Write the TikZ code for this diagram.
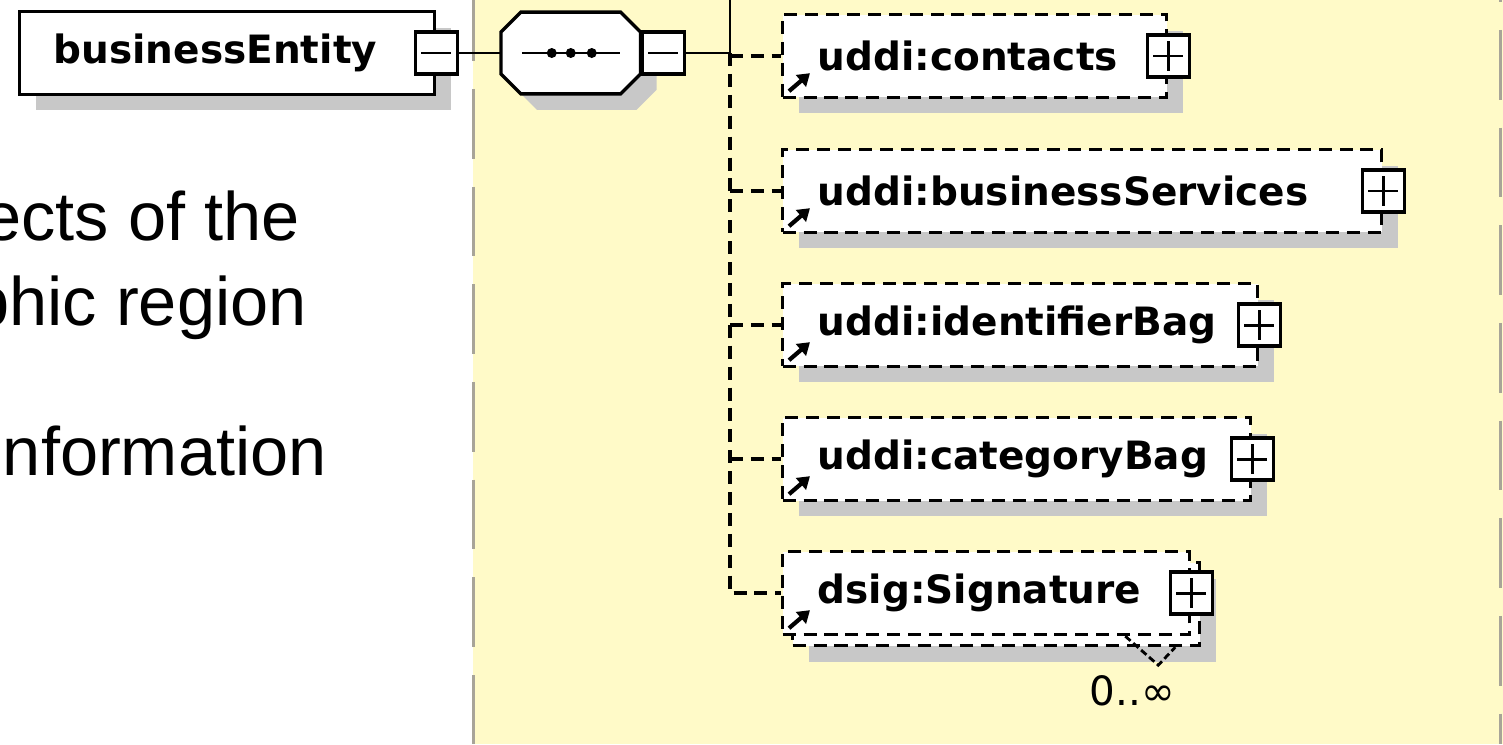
\documentclass[tikz,border=0pt]{standalone}
\usepackage{fontspec}
\setmainfont{Liberation Sans}
\newfontfamily\xsdfont{DejaVu Sans}
\usetikzlibrary{arrows.meta,positioning,shadows,backgrounds}
\definecolor{panel}{HTML}{FFFAC8}
\definecolor{rule}{HTML}{A8A498}
\definecolor{shade}{HTML}{C8C8C8}

\begin{document}
\begin{tikzpicture}[
  x=0.02cm,y=-0.02cm,
  elem/.style={draw,line width=1.9pt,fill=white,anchor=west,inner xsep=0.7cm,inner ysep=0pt,minimum height=1.66cm,
    align=left,font=\xsdfont\bfseries\fontsize{22.2}{26}\selectfont},
  opt/.style={dash pattern=on 7.4pt off 4.5pt},
  shadowed/.style={drop shadow={shadow xshift=0.32cm,shadow yshift=-0.32cm,fill=shade,opacity=1}},
  seqbox/.style={minimum width=2.78cm,minimum height=1.62cm,inner sep=0pt},
  seqline/.style={draw,line width=1.9pt,fill=white},
  minusbox/.style={draw,line width=1.9pt,fill=white,minimum size=0.84cm,inner sep=0pt,
    path picture={\draw[line width=1.7pt] ([xshift=0.12cm]path picture bounding box.west) -- ([xshift=-0.12cm]path picture bounding box.east);}},
  plusbox/.style={draw,line width=1.9pt,fill=white,minimum size=0.84cm,inner sep=0pt,
    path picture={\draw[line width=1.7pt] ([xshift=0.12cm]path picture bounding box.west) -- ([xshift=-0.12cm]path picture bounding box.east)
      ([yshift=-0.12cm]path picture bounding box.north) -- ([yshift=0.12cm]path picture bounding box.south);}},
  wire/.style={line width=1.5pt},
  link/.style={line width=1.9pt,opt},
  refarrow/.style={-{Triangle[length=0.24cm,width=0.3cm]},line width=2.4pt},
  rulebar/.style={draw=rule,line width=1.7pt,dash pattern=on 39.7pt off 15.9pt},
  slide/.style={anchor=base east,inner sep=0pt,font=\fontsize{39}{47}\selectfont}
]
\useasboundingbox (0,0) rectangle (1503,744);
\begin{scope}[on background layer]
  \fill[white] (0,0) rectangle (1503,744);
  \fill[panel] (473,0) rectangle (1503,744);
\end{scope}
\draw[rulebar,dash phase=5pt] (473,0) -- (473,744);
\draw[rulebar,dash phase=38.6pt] (1500,0) -- (1500,744);

\node[slide] (line-a) at (300,240) {ects of the};
\node[slide] (line-b) at (307,325) {phic region};
\node[slide] (line-c) at (327,475) {nformation};

\node[elem,shadowed,inner xsep=0.68cm,text width=6.94cm] (entity) at (18,53) {businessEntity};
\node[minusbox] (entity-minus) at (entity.east) {};
\node[seqbox,right=0.84cm of entity-minus] (seq) {};
\draw[seqline,shadowed] ([xshift=0.4cm]seq.north west) -- ([xshift=-0.4cm]seq.north east)
  -- ([yshift=-0.4cm]seq.north east) -- ([yshift=0.4cm]seq.south east)
  -- ([xshift=-0.4cm]seq.south east) -- ([xshift=0.4cm]seq.south west)
  -- ([yshift=0.4cm]seq.south west) -- ([yshift=-0.4cm]seq.north west) -- cycle;
\draw[wire] ([xshift=0.42cm]seq.west) -- ([xshift=-0.42cm]seq.east);
\foreach \dx in {-0.38,0,0.42} \fill ([xshift=\dx cm]seq.center) circle (0.1cm);
\node[minusbox,anchor=west] (seq-minus) at (seq.east) {};
\coordinate[right=0.88cm of seq-minus.east] (bus);
\coordinate (busup) at (bus |- 0,0);

\node[elem,opt,shadowed,text width=6.28cm] (contacts) at (781,56) {uddi:contacts};
\node[elem,opt,shadowed,text width=10.58cm] (services) at (781,191) {uddi:businessServices};
\node[elem,opt,shadowed,text width=8.1cm] (identifiers) at (781,325) {uddi:identifierBag};
\node[elem,opt,shadowed,text width=7.96cm] (categories) at (781,459) {uddi:categoryBag};
\node[elem,opt,shadowed,text width=6.74cm] (signature-back) at (791,604) {\phantom{dsig:Signature}};
\node[elem,opt,text width=6.74cm] (signature) at (781,593) {dsig:Signature};

\foreach \n in {contacts,services,identifiers,categories,signature}
  \node[plusbox] (\n-plus) at (\n.east) {};
\foreach \n in {contacts,services,identifiers,categories,signature}
  \draw[refarrow] ([shift={(0.16cm,0.16cm)}]\n.south west) -- ++(0.42cm,0.36cm);

\coordinate[below left=0.58cm and 0.66cm of signature.south east] (sig-tip);
\draw[line width=1.6pt,dash pattern=on 4pt off 2pt] ([xshift=-1.32cm]signature.south east) -- (sig-tip)
  -- ([shift={(-0.32cm,-0.22cm)}]signature.south east);
\node[anchor=north,inner sep=0pt,font=\xsdfont\fontsize{23}{25}\selectfont] (sig-count) at ([xshift=-0.52cm,yshift=-0.2cm]sig-tip) {0..∞};

\draw[wire] (busup) -- (bus);
\draw[wire] (seq-minus) -- (bus);
\draw[wire] (entity-minus) -- (seq);
\draw[link] (bus) |- (signature.west);
\draw[link] (bus |- contacts.west) -- (contacts.west);
\draw[link] (bus |- services.west) -- (services.west);
\draw[link] (bus |- identifiers.west) -- (identifiers.west);
\draw[link] (bus |- categories.west) -- (categories.west);
\end{tikzpicture}
\end{document}
